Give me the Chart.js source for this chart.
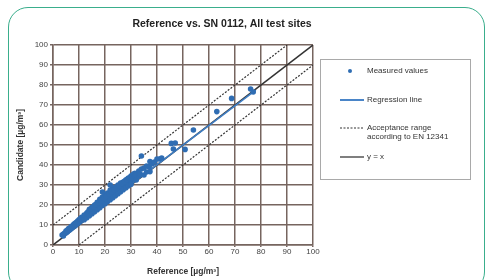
<!DOCTYPE html>
<html>
<head>
<meta charset="utf-8">
<script src="https://cdn.jsdelivr.net/npm/chart.js@4.4.1/dist/chart.umd.min.js"></script>
<style>
    html, body { margin: 0; padding: 0; background: #fff; }
    #wrap { position: relative; width: 487px; height: 280px; overflow: hidden; }
    #card {
        position: absolute; left: 8px; top: 7px; width: 477px; height: 285px;
        border: 1.5px solid #3aae8c; border-radius: 20px; box-sizing: border-box;
    }
    #chart { position: absolute; left: 0; top: 0; }
</style>
</head>
<body>
<div id="wrap">
    <div id="card"></div>
    <canvas id="chart" width="487" height="280"></canvas>
</div>
<script>
// measured pairs (reference, candidate)
const refValues = [
    3.5, 4, 4, 4.5, 5, 5, 5.5, 5.5, 6, 6, 6.5, 6.5, 7, 7, 7.5, 7.5, 8, 8, 8.5, 8.5,
    9, 9, 9.5, 9.5, 10, 10, 10.5, 10.5,
    11, 11, 11.5, 12, 12, 12, 12.5, 13, 13, 13, 13.5, 13.5, 14, 14, 14, 14.5,
    15, 15, 15, 15.5, 16, 16, 16, 16.5, 17, 17, 17, 17.5, 18, 18, 18, 18.5,
    19, 19, 19, 19.5, 20, 20, 20, 20.5,
    21, 21, 21, 21.5, 22, 22, 22, 22.5, 23, 23, 23, 23.5, 24, 24, 24, 24.5,
    25, 25, 25, 25.5, 26, 26, 26, 26.5, 27, 27, 27, 27.5, 28, 28, 28, 28.5,
    29, 29, 29, 29.5, 30, 30, 30, 22, 19,
    14.5, 15.5, 16.5, 17.5, 18.5, 19.5, 20.5, 21.5, 22.5, 23.5, 24.5, 25.5, 26.5, 27.5, 28.5, 29.5, 30.5, 31.5,
    31, 31, 31.5, 32, 32, 33, 33, 33.5, 34, 34, 35, 35, 36, 36, 37.3, 37.3, 37, 38, 39, 40, 41, 41.8,
    45.5, 46.3, 47, 50.8, 54, 63, 68.7, 76, 77
];
const candidateValues = [
    5, 5.5, 4.5, 6, 7, 6, 7.5, 6.5, 8.2, 7.2, 8.5, 7.6, 9.2, 8.3, 9.6, 8.7, 10.3, 9.2, 10.8, 9.6,
    11.4, 10.2, 12, 10.8, 12.6, 11.4, 13.2, 11.8,
    13.8, 12.4, 13.4, 15, 13.8, 12.6, 14.5, 16, 15, 13.6, 16.6, 15.2, 17.8, 16, 14.6, 16.8,
    18.8, 17, 15.6, 18.2, 20, 18, 16.6, 19.2, 21.4, 19.4, 17.6, 20.6, 22.8, 20.4, 18.6, 21.6,
    24, 21.5, 19.8, 22.8, 25, 22.5, 20.6, 23.8,
    26, 23.6, 21.8, 25, 27.5, 24.5, 22.6, 26, 28.5, 25.6, 23.6, 27, 29, 26.5, 24.6, 28,
    30, 27.4, 25.6, 29, 31, 28.5, 26.6, 30, 31.5, 29.4, 27.6, 31, 32.5, 30.5, 28.5, 32,
    33.5, 31.2, 29.5, 32.5, 34.5, 32, 30.4, 30, 26.5,
    18, 19, 20.2, 21.2, 22.4, 23.4, 24.4, 25.6, 26.6, 27.6, 28.6, 29.6, 30.8, 31.8, 32.8, 33.6, 34.8, 35.8,
    35.5, 33, 34.5, 35, 32.5, 37, 34.5, 35.5, 44.5, 38, 38.5, 35, 39.5, 36.5, 41.7, 36.7, 39, 40.5, 41.5, 43, 43, 43.5,
    50.8, 48, 51, 47.8, 57.5, 66.7, 73.3, 78, 76.5
];

const regressionX = [5, 78];
const regressionY = [5.8, 77.4];
const upperX = [0, 90];
const upperY = [10, 100];
const lowerX = [10, 100];
const lowerY = [0, 90];
const identityX = [0, 100];
const identityY = [0, 100];
const tickValues = [0, 10, 20, 30, 40, 50, 60, 70, 80, 90, 100];

const BLUE = '#2f6db3';
const GRID = '#76655f';
const FONT = "'Liberation Sans', Arial, sans-serif";

function toPoints(xs, ys) {
    return xs.map((x, i) => ({ x: x, y: ys[i] }));
}

// title and boxed legend drawn beside the plot
const sidePlugin = {
    id: 'sidePlugin',
    afterDraw(chart) {
        const c = chart.ctx;
        c.save();
        c.fillStyle = '#222';
        c.font = 'bold 10.5px ' + FONT;
        c.textAlign = 'center';
        c.textBaseline = 'middle';
        c.fillText('Reference vs. SN 0112, All test sites', 222, 24);

        c.strokeStyle = '#a9a9a9';
        c.lineWidth = 1;
        c.strokeRect(320.5, 59.5, 150, 120);

        c.textAlign = 'left';
        c.font = '8px ' + FONT;

        c.fillStyle = BLUE;
        c.beginPath();
        c.arc(350, 71, 2, 0, Math.PI * 2);
        c.fill();
        c.fillStyle = '#333';
        c.fillText('Measured values', 367, 71);

        c.strokeStyle = '#4a85c8';
        c.lineWidth = 2;
        c.beginPath(); c.moveTo(340, 100); c.lineTo(364, 100); c.stroke();
        c.fillText('Regression line', 367, 100);

        c.strokeStyle = '#333';
        c.lineWidth = 1.2;
        c.setLineDash([2, 1.5]);
        c.beginPath(); c.moveTo(340, 128); c.lineTo(364, 128); c.stroke();
        c.setLineDash([]);
        c.fillText('Acceptance range', 367, 128);
        c.fillText('according to EN 12341', 367, 137);

        c.strokeStyle = '#555';
        c.lineWidth = 1.5;
        c.beginPath(); c.moveTo(340, 157); c.lineTo(364, 157); c.stroke();
        c.fillText('y = x', 367, 157);
        c.restore();
    }
};

function axisOptions(titleText, horizontal) {
    return {
        type: 'linear',
        min: 0,
        max: 100,
        afterBuildTicks: (scale) => {
            scale.ticks = tickValues.map(v => ({ value: v }));
        },
        afterFit: (scale) => {
            if (horizontal) scale.height = 35;
            else scale.width = 41;
        },
        ticks: {
            color: '#444',
            padding: horizontal ? 0 : 2,
            font: { family: FONT, size: 8 }
        },
        grid: {
            color: GRID,
            lineWidth: 1.5,
            tickLength: horizontal ? 2 : 3
        },
        border: { color: GRID, width: 1.5 },
        title: {
            display: true,
            text: titleText,
            color: '#333',
            font: { family: FONT, size: 8.5, weight: 'bold' },
            padding: { top: 4, bottom: 3 }
        }
    };
}

new Chart(document.getElementById('chart'), {
    type: 'scatter',
    data: {
        datasets: [{
            label: 'Measured values',
            data: toPoints(refValues, candidateValues),
            backgroundColor: BLUE,
            borderWidth: 0,
            pointRadius: 2.8,
            order: 1
        }, {
            label: 'Regression line',
            data: toPoints(regressionX, regressionY),
            showLine: true,
            borderColor: '#3f7ec4',
            borderWidth: 1.6,
            pointRadius: 0,
            order: 2
        }, {
            label: 'y = x',
            data: toPoints(identityX, identityY),
            showLine: true,
            borderColor: '#333',
            borderWidth: 1.5,
            pointRadius: 0,
            order: 3
        }, {
            label: 'Upper limit',
            data: toPoints(upperX, upperY),
            showLine: true,
            borderColor: '#333',
            borderWidth: 1.2,
            borderDash: [2, 1.5],
            pointRadius: 0,
            order: 4
        }, {
            label: 'Lower limit',
            data: toPoints(lowerX, lowerY),
            showLine: true,
            borderColor: '#333',
            borderWidth: 1.2,
            borderDash: [2, 1.5],
            pointRadius: 0,
            order: 5
        }]
    },
    options: {
        responsive: false,
        animation: false,
        layout: { padding: { left: 12, right: 174, top: 45, bottom: 0 } },
        plugins: {
            legend: { display: false },
            tooltip: { enabled: false }
        },
        scales: {
            x: axisOptions('Reference [µg/m³]', true),
            y: axisOptions('Candidate [µg/m³]', false)
        }
    },
    plugins: [sidePlugin]
});
</script>
</body>
</html>
